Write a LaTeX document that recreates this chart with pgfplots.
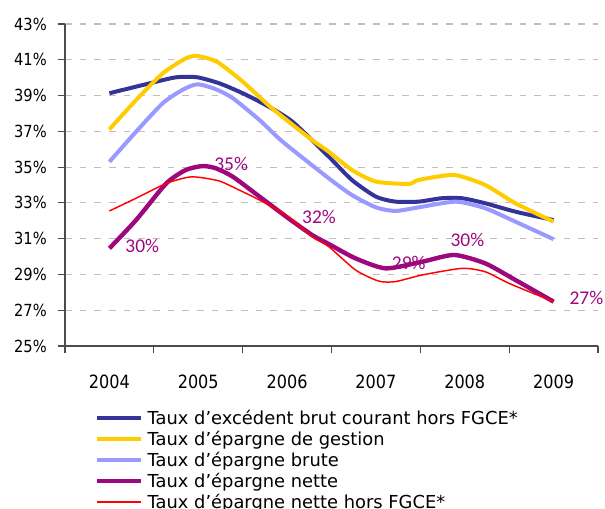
\documentclass[border=0pt]{standalone}
\usepackage{fontspec}
\usepackage{pgfplots}
\pgfplotsset{compat=1.18}
\setmainfont{DejaVu Sans}
\newfontfamily\tickfont[FakeStretch=0.88]{DejaVu Sans}
\newfontfamily\labfont{Carlito}
\definecolor{cDark}{HTML}{333399}
\definecolor{cYel}{HTML}{FFCC00}
\definecolor{cLight}{HTML}{9999FF}
\definecolor{cPur}{RGB}{158,8,125}
\definecolor{cRed}{HTML}{FF0000}
\begin{document}
\begin{tikzpicture}
\begin{axis}[
  scale only axis, width=399.75pt, height=241.5pt,
  xmin=2003.5, xmax=2009.5, ymin=25, ymax=43,
  axis x line=bottom, axis y line=left,
  axis line style={-, draw=black!70, line width=0.9pt},
  tick style={draw=black!70, line width=0.9pt},
  tick align=outside, major tick length=5.5pt,
  xtick={2003.5,2004.5,2005.5,2006.5,2007.5,2008.5,2009.5},
  x tick label as interval,
  xticklabels={2004,2005,2006,2007,2008,2009},
  ytick={25,27,29,31,33,35,37,39,41,43},
  yticklabels={25\%,27\%,29\%,31\%,33\%,35\%,37\%,39\%,41\%,43\%},
  xticklabel style={font=\tickfont\fontsize{13.7}{14}\selectfont, inner sep=0pt, yshift=-15.75pt},
  yticklabel style={font=\tickfont\fontsize{12.5}{14}\selectfont, inner sep=0pt, xshift=-8pt},
  ymajorgrids,
  grid style={dash pattern=on 5pt off 6pt, draw=black!25, line width=0.9pt},
  clip=false,
  legend cell align=left,
  legend image code/.code={\draw[#1] (0pt,0pt) -- (33pt,0pt);},
  legend style={draw=none, fill=none, at={(0,0)}, anchor=north west,
    xshift=19.5pt, yshift=-43.9pt, row sep=0pt,
    font=\fontsize{13.4}{15.75}\selectfont,
    nodes={inner sep=0pt, text height=12.8pt, text depth=2.95pt},
    /tikz/every odd column/.append style={column sep=3pt}},
]
\addplot[cDark, line width=3pt, smooth, tension=0.4] coordinates {
(2004.00,39.13) (2004.45,39.68) (2004.75,40.02) (2004.99,40.02) (2005.24,39.68)
(2005.50,39.13) (2005.76,38.47) (2006.06,37.54) (2006.47,35.58) (2006.73,34.28)
(2007.00,33.35) (2007.22,33.07) (2007.48,33.07) (2007.74,33.26) (2007.97,33.26)
(2008.23,32.98) (2008.57,32.51) (2009.00,32.04)};
\addlegendentry{Taux d'excédent brut courant hors FGCE*}
\addplot[cYel, line width=3pt, smooth, tension=0.4] coordinates {
(2004.00,37.11) (2004.30,38.75) (2004.60,40.24) (2004.86,41.08) (2004.99,41.21)
(2005.21,40.89) (2005.50,39.78) (2005.83,38.29) (2006.28,36.52) (2006.47,35.86)
(2006.73,34.84) (2007.00,34.19) (2007.37,34.06) (2007.48,34.28) (2007.88,34.56)
(2008.23,34.00) (2008.57,32.98) (2009.00,31.95)};
\addlegendentry{Taux d'épargne de gestion}
\addplot[cLight, line width=3pt, smooth, tension=0.4] coordinates {
(2004.00,35.30) (2004.30,36.98) (2004.60,38.57) (2004.82,39.31) (2004.99,39.63)
(2005.20,39.35) (2005.39,38.85) (2005.69,37.63) (2005.95,36.42) (2006.47,34.37)
(2006.73,33.44) (2007.00,32.75) (2007.22,32.55) (2007.48,32.75) (2007.90,33.07)
(2008.23,32.70) (2008.57,31.95) (2009.00,30.97)};
\addlegendentry{Taux d'épargne brute}
\addplot[cPur, line width=3.3pt, smooth, tension=0.4] coordinates {
(2004.00,30.46) (2004.30,32.04) (2004.64,34.09) (2004.86,34.84) (2005.05,35.06)
(2005.20,34.93) (2005.39,34.46) (2005.69,33.35) (2005.99,32.23) (2006.28,31.21)
(2006.47,30.70) (2006.77,29.90) (2007.11,29.34) (2007.52,29.71) (2007.88,30.09)
(2008.23,29.62) (2008.57,28.69) (2009.00,27.48)};
\addlegendentry{Taux d'épargne nette}
\addplot[cRed, line width=1.1pt, smooth, tension=0.4] coordinates {
(2004.00,32.55) (2004.30,33.26) (2004.64,34.09) (2004.88,34.43) (2005.01,34.43)
(2005.24,34.22) (2005.46,33.72) (2005.69,33.16) (2005.99,32.32) (2006.28,31.11)
(2006.47,30.55) (2006.77,29.25) (2007.03,28.63) (2007.22,28.60) (2007.52,28.97)
(2007.97,29.34) (2008.23,29.15) (2008.50,28.50) (2009.00,27.48)};
\addlegendentry{Taux d'épargne nette hors FGCE*}
\begin{scope}[every node/.style={text=cPur, font=\labfont\fontsize{14.6}{15}\selectfont, inner sep=0pt}]
\node at (axis cs:2004.37,30.59) {30\%};
\node at (axis cs:2005.37,35.17) {35\%};
\node at (axis cs:2006.36,32.21) {32\%};
\node at (axis cs:2007.37,29.64) {29\%};
\node at (axis cs:2008.03,30.93) {30\%};
\node at (axis cs:2009.37,27.68) {27\%};
\end{scope}
\end{axis}
\pgfresetboundingbox
\path[use as bounding box] (-48.75pt,-121.5pt) rectangle (405pt,259.5pt);
\end{tikzpicture}
\end{document}
